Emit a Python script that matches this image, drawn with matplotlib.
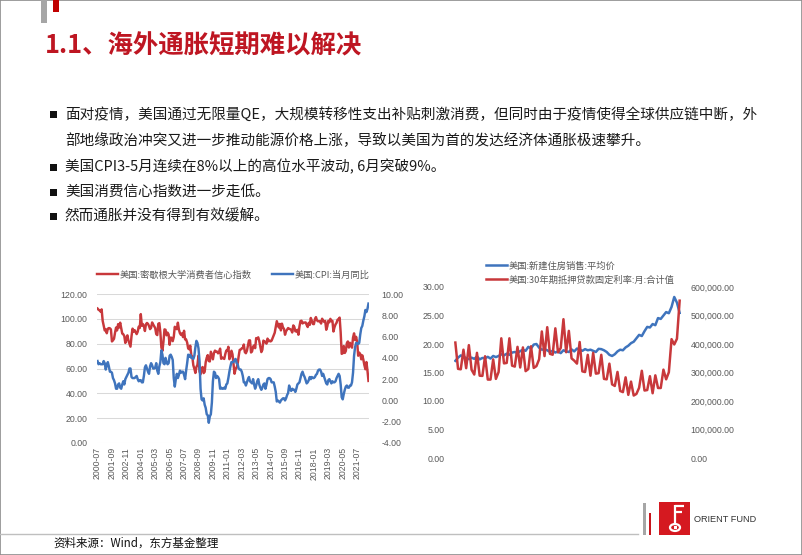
import matplotlib
matplotlib.use("Agg")
import matplotlib.pyplot as plt
from matplotlib.patches import Rectangle, Circle
from matplotlib.lines import Line2D
import numpy as np

plt.rcParams['font.family'] = ['Noto Sans CJK SC', 'DejaVu Sans']

W, H = 802, 555

# ---- left chart: Michigan sentiment (left axis) and CPI yoy (right axis), monthly 2000-07 .. 2022-06
sentiment = [
    108.3, 107.3, 106.8, 105.8, 107.6, 98.4,
    94.7, 90.6, 91.5, 88.4, 92.0, 92.6, 92.4, 91.5, 81.8, 82.7, 83.9, 88.8,
    93.0, 90.7, 95.7, 93.0, 96.9, 92.4, 88.1, 87.6, 86.1, 80.6, 84.2, 86.7,
    82.4, 79.9, 77.6, 86.0, 92.1, 89.7, 90.9, 89.3, 87.7, 89.6, 93.7, 92.6,
    103.8, 94.4, 95.8, 94.2, 90.2, 95.6, 96.7, 95.9, 94.2, 91.7, 92.8, 97.1,
    95.5, 94.1, 92.6, 87.7, 86.9, 96.0, 96.5, 89.1, 76.9, 74.2, 81.6, 91.5,
    91.2, 86.7, 88.9, 87.4, 79.1, 84.9, 84.7, 82.0, 85.4, 93.6, 92.1, 91.7,
    96.9, 91.3, 88.4, 87.1, 88.3, 85.3, 90.4, 83.4, 83.4, 80.9, 76.1, 75.5,
    78.4, 70.8, 69.5, 62.6, 59.8, 56.4, 61.2, 63.0, 70.3, 57.6, 55.3, 60.1,
    61.2, 56.3, 57.3, 65.1, 68.7, 70.8, 66.0, 65.7, 73.5, 70.6, 67.4, 72.5,
    74.4, 73.6, 73.6, 72.2, 73.6, 76.0, 67.8, 68.9, 68.2, 67.7, 71.6, 74.5,
    74.2, 77.5, 67.5, 69.8, 74.3, 71.5, 63.7, 55.8, 59.5, 60.8, 63.7, 69.9,
    75.0, 75.3, 76.2, 76.4, 79.3, 73.2, 72.3, 74.3, 78.3, 82.6, 82.7, 72.9,
    73.8, 77.6, 78.6, 76.4, 84.5, 84.1, 85.1, 82.1, 77.5, 73.2, 75.1, 82.5,
    81.2, 81.6, 80.0, 84.1, 81.9, 82.5, 81.8, 82.5, 84.6, 86.9, 88.8, 93.6,
    98.1, 95.4, 93.0, 95.9, 90.7, 96.1, 93.1, 91.9, 87.2, 90.0, 91.3, 92.6,
    92.0, 91.7, 91.0, 89.0, 94.7, 93.5, 90.0, 89.8, 91.2, 87.2, 93.8, 98.2,
    98.5, 96.3, 96.9, 97.0, 97.1, 95.1, 93.4, 96.8, 95.1, 100.7, 98.5, 95.9,
    95.7, 99.7, 101.4, 98.8, 98.0, 98.2, 97.9, 96.2, 100.1, 98.6, 97.5, 98.3,
    91.2, 93.8, 98.4, 97.2, 100.0, 98.2, 98.4, 89.8, 93.2, 95.5, 96.8, 99.3,
    99.8, 101.0, 89.1, 71.8, 72.3, 78.1, 72.5, 74.1, 80.4, 81.8, 76.9, 80.7,
    79.0, 76.8, 84.9, 88.3, 82.9, 85.5, 81.2, 70.3, 72.8, 71.7, 67.4, 70.6,
    67.2, 62.8, 59.4, 65.2, 58.4, 50.0,
]
cpi_yoy = [
    3.7, 3.4, 3.5, 3.4, 3.4, 3.4,
    3.7, 3.5, 2.9, 3.3, 3.6, 3.2, 2.7, 2.7, 2.6, 2.1, 1.9, 1.6,
    1.1, 1.1, 1.5, 1.6, 1.2, 1.1, 1.5, 1.8, 1.5, 2.0, 2.2, 2.4,
    2.6, 3.0, 3.0, 2.2, 2.1, 2.1, 2.1, 2.2, 2.3, 2.0, 1.8, 1.9,
    1.9, 1.7, 1.7, 2.3, 3.1, 3.3, 3.0, 2.7, 2.5, 3.2, 3.5, 3.3,
    3.0, 3.0, 3.1, 3.5, 2.8, 2.5, 3.2, 3.6, 4.7, 4.3, 3.5, 3.4,
    4.0, 3.6, 3.4, 3.5, 4.2, 4.3, 4.1, 3.8, 2.1, 1.3, 2.0, 2.5,
    2.1, 2.4, 2.8, 2.6, 2.7, 2.7, 2.4, 2.0, 2.8, 3.5, 4.3, 4.1,
    4.3, 4.0, 4.0, 3.9, 4.2, 5.0, 5.6, 5.4, 4.9, 3.7, 1.1, 0.1,
    0.0, 0.2, -0.4, -0.7, -1.3, -1.4, -2.1, -1.5, -1.3, -0.2, 1.8, 2.7,
    2.6, 2.1, 2.3, 2.2, 2.0, 1.1, 1.2, 1.1, 1.1, 1.2, 1.1, 1.5,
    1.6, 2.1, 2.7, 3.2, 3.6, 3.6, 3.6, 3.8, 3.9, 3.5, 3.4, 3.0,
    2.9, 2.9, 2.7, 2.3, 1.7, 1.7, 1.4, 1.7, 2.0, 2.2, 1.8, 1.7,
    1.6, 2.0, 1.5, 1.1, 1.4, 1.8, 2.0, 1.5, 1.2, 1.0, 1.2, 1.5,
    1.6, 1.1, 1.5, 2.0, 2.1, 2.1, 2.0, 1.7, 1.7, 1.7, 1.3, 0.8,
    -0.1, 0.0, -0.1, -0.2, 0.0, 0.1, 0.2, 0.2, 0.0, 0.2, 0.5, 0.7,
    1.4, 1.0, 0.9, 1.1, 1.0, 1.0, 0.8, 1.1, 1.5, 1.6, 1.7, 2.1,
    2.5, 2.7, 2.4, 2.2, 1.9, 1.6, 1.7, 1.9, 2.2, 2.0, 2.2, 2.1,
    2.1, 2.2, 2.4, 2.5, 2.8, 2.9, 2.9, 2.7, 2.3, 2.5, 2.2, 1.9,
    1.6, 1.5, 1.9, 2.0, 1.8, 1.6, 1.8, 1.7, 1.7, 1.8, 2.1, 2.3,
    2.5, 2.3, 1.5, 0.3, 0.1, 0.6, 1.0, 1.3, 1.4, 1.2, 1.2, 1.4,
    1.4, 1.7, 2.6, 4.2, 5.0, 5.4, 5.4, 5.3, 5.4, 6.2, 6.8, 7.0,
    7.5, 7.9, 8.5, 8.3, 8.6, 9.1,
]
left_ticklabels = ['2000-07', '2001-09', '2002-11', '2004-01', '2005-03', '2006-05', '2007-07',
                   '2008-09', '2009-11', '2011-01', '2012-03', '2013-05', '2014-07', '2015-09',
                   '2016-11', '2018-01', '2019-03', '2020-05', '2021-07']

# ---- right chart: 30y mortgage rate monthly sum (left axis), new home avg price (right axis), 2015-07 .. 2022-06
mortgage_sum = [
    20.25, 15.64, 15.56, 19.00, 15.76, 19.80,
    15.48, 14.64, 18.45, 14.44, 14.40, 17.85, 13.76, 13.76, 17.30, 13.88, 15.08, 21.00,
    16.60, 16.68, 21.00, 16.20, 16.04, 19.50, 15.88, 19.40, 15.24, 15.60, 19.60, 15.80,
    16.12, 17.32, 22.20, 17.88, 22.95, 18.28, 18.12, 22.75, 18.52, 19.32, 24.35, 18.56,
    22.30, 17.48, 17.08, 16.56, 20.35, 15.20, 15.08, 18.10, 14.44, 18.45, 14.80, 14.88,
    18.10, 13.88, 13.80, 16.55, 12.92, 12.64, 15.10, 11.76, 11.56, 14.15, 11.08, 13.40,
    10.96, 11.24, 12.32, 15.30, 11.84, 11.92, 14.35, 11.36, 14.50, 12.28, 12.28, 15.50,
    13.80, 15.04, 20.85, 19.92, 20.92, 27.60,
]
home_price = [
    341000, 352000, 360000, 356000, 350000, 347000,
    352000, 348000, 356000, 346000, 351000, 350000, 355000, 349000, 358000, 354000, 358000, 364000,
    360000, 366000, 362000, 370000, 372000, 368000, 375000, 380000, 376000, 390000, 384000, 398000,
    400000, 387000, 380000, 382000, 378000, 372000, 376000, 370000, 374000, 368000, 378000, 374000,
    372000, 381000, 374000, 384000, 380000, 376000, 382000, 378000, 380000, 376000, 372000, 383000,
    382000, 378000, 372000, 362000, 358000, 364000, 374000, 380000, 378000, 388000, 394000, 403000,
    408000, 420000, 432000, 428000, 445000, 460000, 458000, 470000, 466000, 491000, 488000, 500000,
    512000, 508000, 530000, 565000, 545000, 509000,
]

RED = '#c8383b'
BLUE = '#3f74bd'
GREY_TXT = '#595959'
NUM_FONT = 'Liberation Sans'
TICK_SIZE = 6.3


def rect(x0, y0, x1, y1):
    # pixel box (top-left origin) -> figure fraction [l, b, w, h]
    return [x0 / W, 1 - y1 / H, (x1 - x0) / W, (y1 - y0) / H]


def fx(x):
    return x / W


def fy(y):
    return 1 - y / H


def clean_axes(ax):
    for s in ax.spines.values():
        s.set_visible(False)
    ax.tick_params(length=0, labelcolor=GREY_TXT, labelsize=TICK_SIZE)


fig = plt.figure(figsize=(W / 100, H / 100), dpi=100, facecolor='white')

# ---------------- left chart
ax1 = fig.add_axes(rect(97, 294, 369, 443))
ax1b = ax1.twinx()
x = np.arange(len(sentiment))
l1, = ax1.plot(x, sentiment, color=RED, lw=1.75, zorder=3)
l2, = ax1b.plot(x, cpi_yoy, color=BLUE, lw=1.75, zorder=3)
ax1.set_xlim(-0.5, len(x) - 0.5)
ax1.set_ylim(0, 120)
ax1b.set_ylim(-4, 10)
lt = np.arange(0, 121, 20)
ax1.set_yticks(lt, labels=[f'{v:.2f}' for v in lt], fontfamily=NUM_FONT)
rt = np.arange(-4, 11, 2)
ax1b.set_yticks(rt, labels=[f'{v:.2f}' for v in rt], fontfamily=NUM_FONT)
ax1.set_xticks(x[::14], labels=left_ticklabels, rotation=90, fontfamily=NUM_FONT)
clean_axes(ax1)
clean_axes(ax1b)
ax1.tick_params(axis='y', pad=7)
ax1b.tick_params(axis='y', pad=9)
ax1.tick_params(axis='x', pad=3)
ax1.grid(axis='y', color='#d9d9d9', lw=0.75)
ax1.set_axisbelow(True)
ax1.legend([l1, l2], ['美国:密歇根大学消费者信心指数', '美国:CPI:当月同比'], loc='center',
           bbox_to_anchor=(0.5, (443 - 275) / 149), ncol=2, frameon=False, fontsize=6.7,
           labelcolor=GREY_TXT, handlelength=2.3, handletextpad=0.15, columnspacing=2.2)

# ---------------- right chart
ax2 = fig.add_axes(rect(454, 287, 681, 458))
ax2b = ax2.twinx()
x2 = np.arange(len(mortgage_sum))
r1, = ax2.plot(x2, mortgage_sum, color=RED, lw=1.8)
r2, = ax2b.plot(x2, home_price, color=BLUE, lw=1.8)
ax2.set_zorder(ax2b.get_zorder() + 1)
ax2.patch.set_visible(False)
ax2.set_xlim(-0.5, len(x2) - 0.5)
ax2.set_ylim(0, 30)
ax2b.set_ylim(0, 600000)
t2 = np.arange(0, 31, 5)
ax2.set_yticks(t2, labels=[f'{v:.2f}' for v in t2], fontfamily=NUM_FONT)
t2b = np.arange(0, 600001, 100000)
ax2b.set_yticks(t2b, labels=[f'{v:,.2f}' for v in t2b], fontfamily=NUM_FONT)
ax2.set_xticks([])
clean_axes(ax2)
clean_axes(ax2b)
ax2.tick_params(axis='y', pad=7)
ax2b.tick_params(axis='y', pad=7)
fig.legend([r2, r1], ['美国:新建住房销售:平均价', '美国:30年期抵押贷款固定利率:月:合计值'],
           loc='upper left', bbox_to_anchor=(fx(486), fy(261)), frameon=False, fontsize=6.7,
           labelcolor=GREY_TXT, handlelength=2.3, handletextpad=0.15, labelspacing=0.55,
           borderpad=0, borderaxespad=0)

# ---------------- slide decoration
fig.add_artist(Rectangle((0, 0), 1, 1, transform=fig.transFigure, fill=False,
                         edgecolor='#8c8c8c', lw=1.2))
fig.add_artist(Rectangle((fx(41), fy(23)), 6 / W, 23 / H, transform=fig.transFigure,
                         color='#a6a6a6', lw=0))
fig.add_artist(Rectangle((fx(53), fy(12)), 6 / W, 12 / H, transform=fig.transFigure,
                         color='#c00000', lw=0))
fig.text(fx(45), fy(46), '1.1、海外通胀短期难以解决', fontsize=18.3, fontweight='bold',
         color='#be1622', va='center', ha='left')

bullets = [
    (114, True, '面对疫情，美国通过无限量QE，大规模转移性支出补贴刺激消费，但同时由于疫情使得全球供应链中断，外'),
    (141, False, '部地缘政治冲突又进一步推动能源价格上涨，导致以美国为首的发达经济体通胀极速攀升。'),
    (167, True, '美国CPI3-5月连续在8%以上的高位水平波动, 6月突破9%。'),
    (192, True, '美国消费信心指数进一步走低。'),
    (216, True, '然而通胀并没有得到有效缓解。'),
]
for y, has_mark, txt in bullets:
    if has_mark:
        fig.add_artist(Rectangle((fx(50), fy(y + 3.5)), 7 / W, 7 / H, transform=fig.transFigure,
                                 color='#111111', lw=0))
    fig.text(fx(65), fy(y), txt, fontsize=10.5, color='#1a1a1a', va='center', ha='left')

# footer
fig.add_artist(Line2D([0, fx(638)], [fy(534), fy(534)], transform=fig.transFigure,
                      color='#bfbfbf', lw=1))
fig.text(fx(53), fy(543), '资料来源：Wind，东方基金整理', fontsize=8.3, color='#111111',
         va='center', ha='left')

# logo
fig.add_artist(Rectangle((fx(643), fy(535)), 3 / W, 32 / H, transform=fig.transFigure,
                         color='#a6a6a6', lw=0))
fig.add_artist(Rectangle((fx(649), fy(535)), 2 / W, 22 / H, transform=fig.transFigure,
                         color='#c8161d', lw=0))
fig.add_artist(Rectangle((fx(659), fy(535)), 31 / W, 33 / H, transform=fig.transFigure,
                         color='#d51920', lw=0))
for xs, ys in [([675, 675], [505, 523]), ([675, 684], [506, 506]), ([675, 682], [512, 512])]:
    fig.add_artist(Line2D([fx(v) for v in xs], [fy(v) for v in ys], transform=fig.transFigure,
                          color='white', lw=1.6, solid_capstyle='butt'))
fig.add_artist(Circle((fx(675), fy(527.5)), 5 / W, transform=fig.transFigure, fill=False,
                      edgecolor='white', lw=1.6))
fig.add_artist(Rectangle((fx(673.5), fy(529)), 3 / W, 3 / H, transform=fig.transFigure,
                         color='white', lw=0))
fig.text(fx(694), fy(520), 'ORIENT FUND', fontsize=6.6, color='#333333', va='center',
         ha='left', fontfamily=NUM_FONT)

fig.savefig('out.png', dpi=100, facecolor='white')
